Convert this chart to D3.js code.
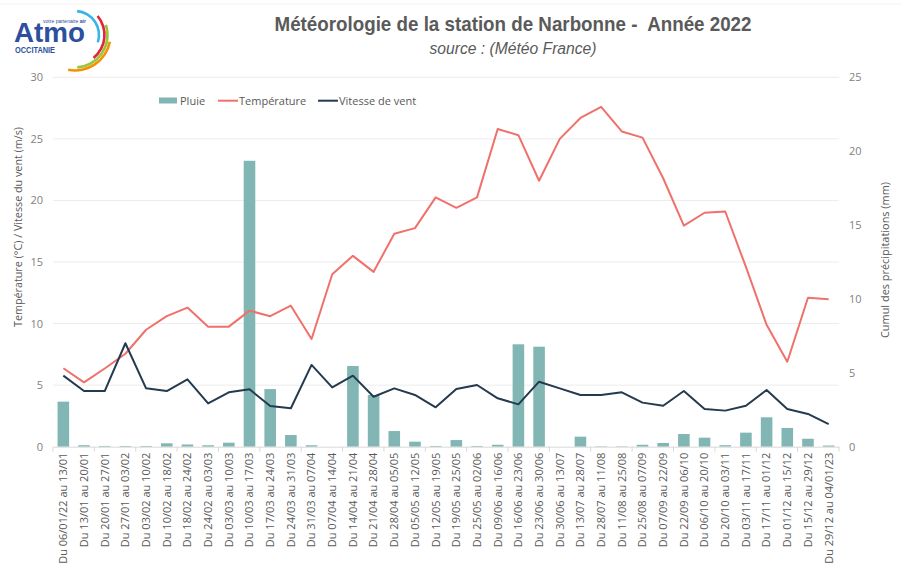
<!DOCTYPE html>
<html>
<head>
<meta charset="utf-8">
<script src="https://cdn.jsdelivr.net/npm/d3@7"></script>
<style>
  body { margin: 0; background: #fff; }
  svg { display: block; font-family: "Open Sans", "Noto Sans", sans-serif; }
</style>
</head>
<body>
<div id="chart"></div>
<script>
  const W = 901, H = 565;

  // -----------------------------
  // Data
  // -----------------------------
  const periods = [
    "Du 06/01/22 au 13/01", "Du 13/01 au 20/01", "Du 20/01 au 27/01", "Du 27/01 au 03/02",
    "Du 03/02 au 10/02", "Du 10/02 au 18/02", "Du 18/02 au 24/02", "Du 24/02 au 03/03",
    "Du 03/03 au 10/03", "Du 10/03 au 17/03", "Du 17/03 au 24/03", "Du 24/03 au 31/03",
    "Du 31/03 au 07/04", "Du 07/04 au 14/04", "Du 14/04 au 21/04", "Du 21/04 au 28/04",
    "Du 28/04 au 05/05", "Du 05/05 au 12/05", "Du 12/05 au 19/05", "Du 19/05 au 25/05",
    "Du 25/05 au 02/06", "Du 09/06 au 16/06", "Du 16/06 au 23/06", "Du 23/06 au 30/06",
    "Du 30/06 au 13/07", "Du 13/07 au 28/07", "Du 28/07 au 11/08", "Du 11/08 au 25/08",
    "Du 25/08 au 07/09", "Du 07/09 au 22/09", "Du 22/09 au 06/10", "Du 06/10 au 20/10",
    "Du 20/10 au 03/11", "Du 03/11 au 17/11", "Du 17/11 au 01/12", "Du 01/12 au 15/12",
    "Du 15/12 au 29/12", "Du 29/12 au 04/01/23"
  ];

  // Cumul des précipitations (mm) - right axis
  const pluie = [
    3.05, 0.1, 0.05, 0.05, 0.05, 0.23, 0.15, 0.1, 0.27, 19.35,
    3.9, 0.79, 0.1, 0, 5.46, 3.5, 1.06, 0.34, 0.05, 0.45,
    0.05, 0.13, 6.93, 6.77, 0, 0.68, 0.03, 0.03, 0.13, 0.25,
    0.86, 0.61, 0.1, 0.95, 1.99, 1.27, 0.54, 0.08
  ];

  // Température (°C) - left axis
  const temperature = [
    6.37, 5.23, 6.35, 7.55, 9.5, 10.6, 11.3, 9.75, 9.75, 11.05,
    10.6, 11.45, 8.75, 14.0, 15.5, 14.2, 17.3, 17.75, 20.25, 19.4,
    20.25, 25.8, 25.3, 21.6, 25.0, 26.7, 27.6, 25.6, 25.1, 21.8,
    17.95, 19.0, 19.1, 14.6, 9.9, 6.9, 12.1, 11.97
  ];

  // Vitesse de vent (m/s) - left axis
  const vent = [
    5.77, 4.52, 4.52, 8.4, 4.74, 4.52, 5.47, 3.52, 4.42, 4.66,
    3.3, 3.12, 6.64, 4.82, 5.77, 4.06, 4.74, 4.2, 3.2, 4.69,
    5.01, 3.93, 3.44, 5.28, 4.74, 4.2, 4.2, 4.42, 3.58, 3.33,
    4.52, 3.06, 2.93, 3.33, 4.6, 3.06, 2.66, 1.84
  ];

  const leftTicks = [0, 5, 10, 15, 20, 25, 30];
  const rightTicks = [0, 5, 10, 15, 20, 25];

  const COL_RAIN = "#82b6b4";
  const COL_TEMP = "#f0706b";
  const COL_WIND = "#243a4e";
  const COL_TEXT = "#595959";
  const COL_TICK = "#7f7f7f";
  const COL_GRID = "#ececec";

  // -----------------------------
  // Layout
  // -----------------------------
  const plot = { left: 53, right: 839, top: 77.3, bottom: 446.7 };

  const svg = d3.select("#chart").append("svg")
    .attr("width", W).attr("height", H)
    .attr("viewBox", [0, 0, W, H]);

  svg.append("rect").attr("width", W).attr("height", H).attr("fill", "#fff");
  svg.append("line")
    .attr("x1", 0).attr("x2", W).attr("y1", 4).attr("y2", 4)
    .attr("stroke", "#f3f3f3");

  const x = d3.scaleBand()
    .domain(periods)
    .range([plot.left, plot.right])
    .paddingInner(0.44)
    .paddingOuter(0.22);

  const yLeft = d3.scaleLinear().domain([0, 30]).range([plot.bottom, plot.top]);
  const yRight = d3.scaleLinear().domain([0, 25]).range([plot.bottom, plot.top]);

  const cx = (d) => x(d) + x.bandwidth() / 2;

  // grid
  svg.append("g")
    .selectAll("line")
    .data(leftTicks.filter((t) => t > 0))
    .join("line")
    .attr("x1", plot.left).attr("x2", plot.right)
    .attr("y1", (d) => yLeft(d)).attr("y2", (d) => yLeft(d))
    .attr("stroke", COL_GRID).attr("stroke-width", 1);

  // left axis
  const gLeft = svg.append("g")
    .attr("transform", `translate(${plot.left},0)`)
    .call(d3.axisLeft(yLeft).tickValues(leftTicks).tickSize(0).tickPadding(10));
  gLeft.select(".domain").remove();
  gLeft.selectAll("text")
    .attr("fill", COL_TICK).attr("font-size", 11)
    .attr("font-family", "'Open Sans', sans-serif");

  // right axis
  const gRight = svg.append("g")
    .attr("transform", `translate(${plot.right},0)`)
    .call(d3.axisRight(yRight).tickValues(rightTicks).tickSize(0).tickPadding(10));
  gRight.select(".domain").remove();
  gRight.selectAll("text")
    .attr("fill", COL_TICK).attr("font-size", 11)
    .attr("font-family", "'Open Sans', sans-serif");

  // bars
  svg.append("g")
    .selectAll("rect")
    .data(periods)
    .join("rect")
    .attr("x", (d) => x(d))
    .attr("width", x.bandwidth())
    .attr("y", (d, i) => yRight(pluie[i]))
    .attr("height", (d, i) => yRight(0) - yRight(pluie[i]))
    .attr("fill", COL_RAIN);

  // x axis
  const gx = svg.append("g")
    .attr("transform", `translate(0,${plot.bottom})`)
    .call(d3.axisBottom(x).tickSize(0).tickPadding(6));
  gx.select(".domain").attr("stroke", "#d9d9d9");
  gx.selectAll("text")
    .attr("fill", COL_TEXT).attr("font-size", 11)
    .attr("font-family", "'Open Sans', sans-serif")
    .attr("text-anchor", "end")
    .attr("dy", "0.35em")
    .attr("transform", "rotate(-90)")
    .attr("x", -6).attr("y", 0);

  // small separators every two categories
  const step = x.step();
  const sepIdx = d3.range(0, periods.length + 1, 2);
  const sepX = (i) => i === periods.length
    ? plot.right
    : x(periods[i]) - step * 0.22;
  svg.append("g")
    .selectAll("line")
    .data(sepIdx)
    .join("line")
    .attr("x1", sepX).attr("x2", sepX)
    .attr("y1", plot.bottom).attr("y2", plot.bottom + 5)
    .attr("stroke", "#d9d9d9");

  // lines
  const lineGen = d3.line()
    .x((d, i) => cx(periods[i]))
    .y((d) => yLeft(d));

  svg.append("path")
    .datum(temperature)
    .attr("d", lineGen)
    .attr("fill", "none")
    .attr("stroke", COL_TEMP)
    .attr("stroke-width", 2)
    .attr("stroke-linejoin", "round");

  svg.append("path")
    .datum(vent)
    .attr("d", lineGen)
    .attr("fill", "none")
    .attr("stroke", COL_WIND)
    .attr("stroke-width", 2)
    .attr("stroke-linejoin", "round");

  // axis titles
  svg.append("text")
    .attr("transform", "translate(22,227) rotate(-90)")
    .attr("text-anchor", "middle")
    .attr("font-size", 11).attr("fill", COL_TEXT)
    .attr("textLength", 200).attr("lengthAdjust", "spacingAndGlyphs")
    .text("Température (°C) / Vitesse du vent (m/s)");

  svg.append("text")
    .attr("transform", "translate(889,260) rotate(-90)")
    .attr("text-anchor", "middle")
    .attr("font-size", 11).attr("fill", COL_TEXT)
    .attr("textLength", 156).attr("lengthAdjust", "spacingAndGlyphs")
    .text("Cumul des précipitations (mm)");

  // legend
  const legend = svg.append("g").attr("font-size", 11).attr("fill", COL_TEXT);
  legend.append("rect").attr("x", 159).attr("y", 97.5).attr("width", 18).attr("height", 6).attr("fill", COL_RAIN);
  legend.append("text").attr("x", 180).attr("y", 104.5).text("Pluie");
  legend.append("line").attr("x1", 218).attr("x2", 238).attr("y1", 100.7).attr("y2", 100.7)
    .attr("stroke", COL_TEMP).attr("stroke-width", 2);
  legend.append("text").attr("x", 239).attr("y", 104.5).text("Température");
  legend.append("line").attr("x1", 318).attr("x2", 338).attr("y1", 100.7).attr("y2", 100.7)
    .attr("stroke", COL_WIND).attr("stroke-width", 2);
  legend.append("text").attr("x", 339).attr("y", 104.5).text("Vitesse de vent");

  // titles
  svg.append("text")
    .attr("x", 513).attr("y", 31)
    .attr("text-anchor", "middle")
    .attr("font-family", "'Liberation Sans', Arial, sans-serif")
    .attr("font-weight", "bold").attr("font-size", 21)
    .attr("fill", "#5a5a5a")
    .attr("textLength", 477).attr("lengthAdjust", "spacingAndGlyphs")
    .attr("xml:space", "preserve")
    .text("Météorologie de la station de Narbonne -  Année 2022");

  svg.append("text")
    .attr("x", 513).attr("y", 54)
    .attr("text-anchor", "middle")
    .attr("font-family", "'Liberation Sans', Arial, sans-serif")
    .attr("font-style", "italic").attr("font-size", 16)
    .attr("fill", "#5a5a5a")
    .attr("textLength", 167).attr("lengthAdjust", "spacingAndGlyphs")
    .text("source : (Météo France)");

  // logo
  const logo = svg.append("g").attr("font-family", "'Liberation Sans', Arial, sans-serif");
  logo.append("text").attr("x", 14).attr("y", 42.3)
    .attr("font-size", 28.5).attr("font-weight", "bold").attr("fill", "#2c4f9e")
    .attr("textLength", 71).attr("lengthAdjust", "spacingAndGlyphs")
    .text("Atmo");
  logo.append("text").attr("x", 43).attr("y", 23.3)
    .attr("font-size", 4.6).attr("fill", "#2c4f9e")
    .attr("textLength", 43).attr("lengthAdjust", "spacingAndGlyphs")
    .html('votre partenaire <tspan font-weight="bold">air</tspan>');
  logo.append("text").attr("x", 15).attr("y", 53.3)
    .attr("font-size", 8.5).attr("font-weight", "bold").attr("fill", "#2c4f9e")
    .attr("textLength", 40).attr("lengthAdjust", "spacingAndGlyphs")
    .text("OCCITANIE");

  const arcs = [
    { r: 24, a0: 5, a1: 108, c: "#37b6e6" },
    { r: 29.5, a0: 50, a1: 141, c: "#e3243b" },
    { r: 32.5, a0: 72, a1: 176, c: "#9bc53d" },
    { r: 35.5, a0: 101, a1: 191, c: "#f39200" }
  ];
  const arcGen = d3.arc();
  logo.append("g")
    .attr("transform", "translate(75,35)")
    .selectAll("path")
    .data(arcs)
    .join("path")
    .attr("d", (d) => arcGen({
      innerRadius: d.r - 1.3, outerRadius: d.r + 1.3,
      startAngle: d.a0 * Math.PI / 180, endAngle: d.a1 * Math.PI / 180,
      cornerRadius: 1.3
    }))
    .attr("fill", (d) => d.c);
</script>
</body>
</html>
